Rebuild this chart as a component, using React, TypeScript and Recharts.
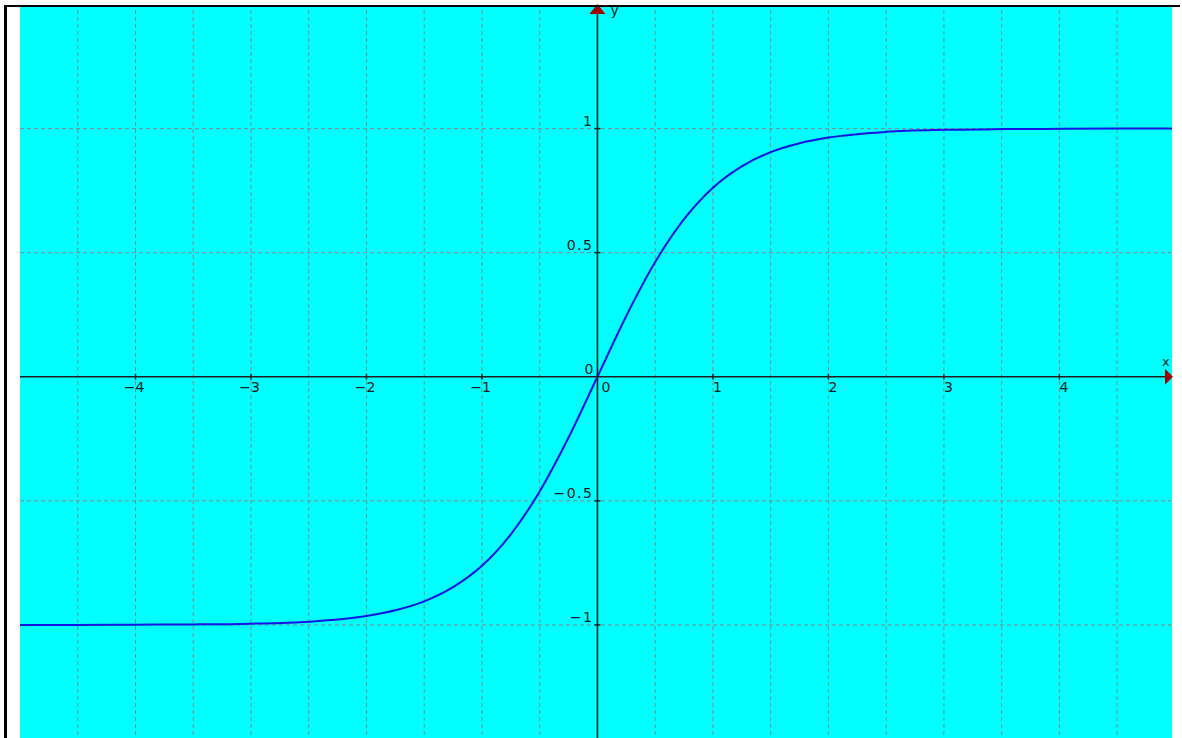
import { LineChart, Line, XAxis, YAxis, ReferenceLine, ReferenceDot, ReferenceArea } from 'recharts';

// readings of the plotted curve
const xValues = [-5, -4.5, -4, -3.5, -3, -2.5, -2, -1.75, -1.5, -1.25, -1, -0.75, -0.5, -0.25, 0, 0.25, 0.5, 0.75, 1, 1.25, 1.5, 1.75, 2, 2.5, 3, 3.5, 4, 4.5, 5];
const yValues = [-1.0, -1.0, -0.999, -0.998, -0.995, -0.987, -0.964, -0.941, -0.905, -0.848, -0.762, -0.635, -0.462, -0.245, 0, 0.245, 0.462, 0.635, 0.762, 0.848, 0.905, 0.941, 0.964, 0.987, 0.995, 0.998, 0.999, 1.0, 1.0];

const xGrid = [-4.5, -4, -3.5, -3, -2.5, -2, -1.5, -1, -0.5, 0.5, 1, 1.5, 2, 2.5, 3, 3.5, 4, 4.5];
const yGrid = [-1.5, -1, -0.5, 0.5, 1];
const xTicks = [-4, -3, -2, -1, 0, 1, 2, 3, 4];
const xTickLabels = ['\u22124', '\u22123', '\u22122', '\u22121', '0', '1', '2', '3', '4'];
const yTicks = [-1, -0.5, 0, 0.5, 1];
const yTickLabels = ['\u22121', '\u22120.5', '0', '0.5', '1'];

const X_MIN = -5;
const X_MAX = 4.975;
const Y_MIN = -1.5;
const Y_MAX = 1.49;

const data = xValues.map((x, i) => ({ x, y: yValues[i] }));

const axisColor = '#202020';
const textColor = '#102020';
const font = '"DejaVu Sans", "Liberation Sans", sans-serif';

const XTick = (label: string) => (p: any) => (
  <g>
    <line x1={p.cx} x2={p.cx} y1={p.cy - 3} y2={p.cy + 3} stroke={axisColor} strokeWidth={1.5} />
    {label !== '0' && (
      <text x={p.cx + 9} y={p.cy + 15} textAnchor="end" fontSize={14} fill={textColor} fontFamily={font}>
        {label}
      </text>
    )}
    {label === '0' && (
      <>
        <text x={p.cx + 4} y={p.cy + 15} fontSize={14} fill={textColor} fontFamily={font}>0</text>
        <text x={p.cx - 4} y={p.cy - 3} textAnchor="end" fontSize={14} fill={textColor} fontFamily={font}>0</text>
      </>
    )}
  </g>
);

const YTick = (label: string) => (p: any) => (
  <g>
    <line x1={p.cx - 3} x2={p.cx + 3} y1={p.cy} y2={p.cy} stroke={axisColor} strokeWidth={1.5} />
    <text x={p.cx - 4} y={p.cy - 3} textAnchor="end" fontSize={14} letterSpacing={1.5} fill={textColor} fontFamily={font}>
      {label}
    </text>
  </g>
);

const YArrow = (p: any) => (
  <g>
    <polygon points={`${p.cx},${p.cy - 3} ${p.cx - 8},${p.cy + 7} ${p.cx + 8},${p.cy + 7}`} fill="#a00000" />
    <text x={p.cx + 13} y={p.cy + 8} fontSize={14} fill={textColor} fontFamily={font}>y</text>
  </g>
);

const XArrow = (p: any) => (
  <g>
    <polygon points={`${p.cx + 1},${p.cy} ${p.cx - 7},${p.cy - 8} ${p.cx - 7},${p.cy + 8}`} fill="#a00000" />
    <text x={p.cx - 10} y={p.cy - 11} fontSize={13} fill={textColor} fontFamily={font}>x</text>
  </g>
);

export default function App() {
  return (
    <div style={{ position: 'fixed', left: 0, top: 0, width: 1182, height: 738, overflow: 'hidden', background: '#fff' }}>
      <div style={{ position: 'absolute', left: 0, top: 0 }}>
        <LineChart width={1182} height={760} data={data} margin={{ top: 7, right: 10, bottom: 11, left: 20 }}>
          <XAxis type="number" dataKey="x" domain={[X_MIN, X_MAX]} allowDataOverflow hide />
          <YAxis type="number" domain={[Y_MIN, Y_MAX]} allowDataOverflow hide />
          <ReferenceArea x1={X_MIN} x2={X_MAX} y1={Y_MIN} y2={Y_MAX} fill="#00ffff" fillOpacity={1} stroke="none" />
          {xGrid.map((v) => (
            <ReferenceLine key={`gx${v}`} x={v} stroke="#808a8a" strokeDasharray="4 3" />
          ))}
          {yGrid.map((v) => (
            <ReferenceLine key={`gy${v}`} y={v} stroke="#808a8a" strokeDasharray="4 3" />
          ))}
          <ReferenceLine x={0} stroke={axisColor} strokeWidth={1.6} />
          <ReferenceLine y={0} stroke={axisColor} strokeWidth={1.6} />
          <Line
            dataKey="y"
            type="monotone"
            stroke="#1414e6"
            strokeWidth={2}
            dot={false}
            isAnimationActive={false}
          />
          {xTicks.map((v, i) => (
            <ReferenceDot key={`tx${v}`} x={v} y={0} r={0} shape={XTick(xTickLabels[i])} />
          ))}
          {yTicks.filter((v) => v !== 0).map((v) => (
            <ReferenceDot key={`ty${v}`} x={0} y={v} r={0} shape={YTick(yTickLabels[yTicks.indexOf(v)])} />
          ))}
          <ReferenceDot x={0} y={Y_MAX} r={0} shape={YArrow} />
          <ReferenceDot x={X_MAX} y={0} r={0} shape={XArrow} />
        </LineChart>
      </div>
      <div
        style={{
          position: 'absolute',
          left: 4,
          top: 5,
          width: 1176,
          height: 760,
          borderTop: '2px solid #000',
          borderLeft: '3px solid #000',
          boxSizing: 'border-box',
          pointerEvents: 'none',
        }}
      />
    </div>
  );
}
